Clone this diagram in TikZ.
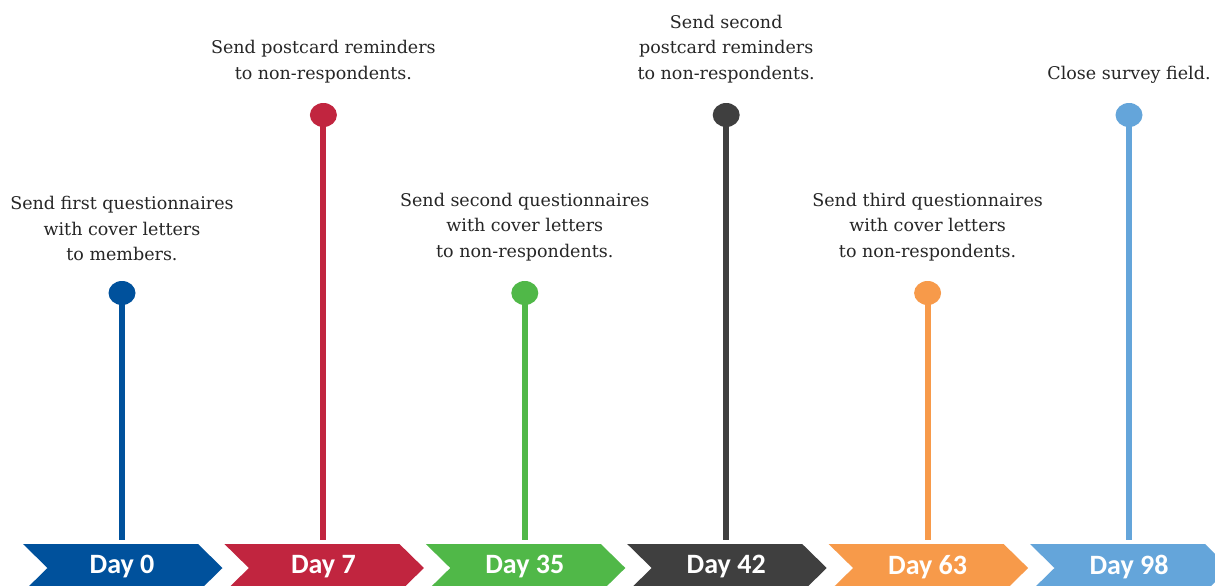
\documentclass[tikz,border=0pt]{standalone}
\usepackage{fontspec}
\setmainfont{DejaVu Serif}
\newfontfamily\daysans{Carlito}
\definecolor{cA}{HTML}{00519C}
\definecolor{cB}{HTML}{C1253F}
\definecolor{cC}{HTML}{50B848}
\definecolor{cD}{HTML}{3F3F3F}
\definecolor{cE}{HTML}{F79A4A}
\definecolor{cF}{HTML}{64A5DA}
\tikzset{
  chev/.style={fill=#1, draw=none},
  stem/.style={draw=#1, line width=6pt},
  dot/.style={fill=#1, draw=none, ellipse, minimum width=27pt, minimum height=24pt, inner sep=0pt},
  daylabel/.style={text=white, font=\daysans\bfseries\fontsize{28}{30}\selectfont, inner sep=0pt},
  desc/.style={align=center, font=\fontsize{17.5}{25.5}\selectfont, text=black!85, inner sep=0pt, anchor=south}
}
\usetikzlibrary{shapes.geometric}
\begin{document}
\begin{tikzpicture}[x=1pt,y=-1pt]
\useasboundingbox (0,0) rectangle (1215,586);
\clip (0,0) rectangle (1215,586);
\fill[white] (0,0) rectangle (1215,586);
\foreach \i/\c/\lab/\dy in {0/cA/Day 0/293,1/cB/Day 7/115,2/cC/Day 35/293,3/cD/Day 42/115,4/cE/Day 63/293,5/cF/Day 98/115}{
  \pgfmathsetmacro{\L}{23+201.4*\i}
  \fill[chev=\c] (\L,544) -- ++(175,0) -- ++(24.5,24) -- ++(-24.5,24) -- ++(-175,0) -- ++(24.5,-24) -- cycle;
  \node[daylabel] (day\i) at (\L+99,567) {\lab};
  \coordinate (base\i) at (\L+99,540);
  \node[dot=\c] (dot\i) at (\L+99,\dy) {};
  \draw[stem=\c] (dot\i.center) -- (base\i);
}
\node[desc] (t0) at ([yshift=19.5pt]dot0.north) {Send first questionnaires\\with cover letters\\to members.};
\node[desc] (t1) at ([yshift=19.5pt]dot1.north) {Send postcard reminders\\to non-respondents.};
\node[desc] (t2) at ([yshift=19.5pt]dot2.north) {Send second questionnaires\\with cover letters\\to non-respondents.};
\node[desc] (t3) at ([yshift=19.5pt]dot3.north) {Send second\\postcard reminders\\to non-respondents.};
\node[desc] (t4) at ([yshift=19.5pt]dot4.north) {Send third questionnaires\\with cover letters\\to non-respondents.};
\node[desc] (t5) at ([yshift=19.5pt]dot5.north) {Close survey field.};
\end{tikzpicture}
\end{document}
